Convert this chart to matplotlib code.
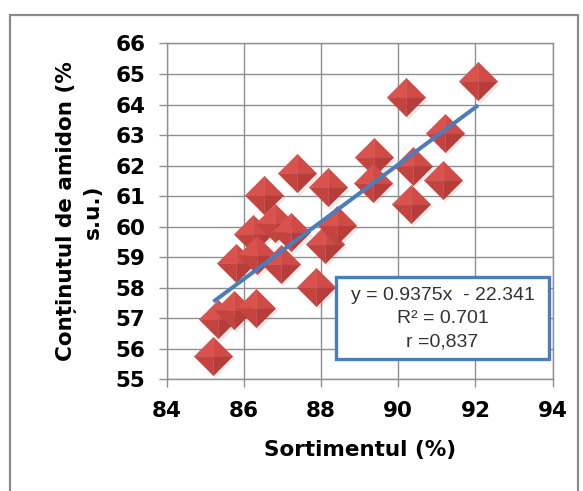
import matplotlib
matplotlib.use("Agg")
import matplotlib.pyplot as plt
import matplotlib.transforms as mtransforms
from matplotlib.patches import Rectangle

# values
sortiment = [85.21, 85.33, 85.74, 86.30, 85.80, 86.24, 86.35, 86.51, 86.80, 86.97,
             87.21, 87.37, 87.87, 88.19, 88.11, 88.40, 89.37, 89.34, 90.20, 90.39,
             90.34, 91.20, 91.15, 92.07]
amidon = [55.77, 56.97, 57.26, 57.32, 58.82, 59.77, 59.06, 61.02, 60.12, 58.79,
          59.82, 61.75, 58.03, 61.29, 59.44, 60.04, 62.27, 61.44, 64.24, 62.00,
          60.75, 63.07, 61.53, 64.77]
slope, intercept = 0.9375, -22.341
eq_lines = ["y = 0.9375x  - 22.341", "R² = 0.701", "r =0,837"]
x_ticks = [84, 86, 88, 90, 92, 94]
y_ticks = list(range(55, 67))

font = "DejaVu Sans"
grid_col = "#8f8f8f"

fig = plt.figure(figsize=(5.83, 4.91), dpi=100)
ax = fig.add_axes([0.286, 0.2275, 0.662, 0.684])

# outer chart frame
fig.add_artist(Rectangle((10 / 583, -0.05), 568 / 583, 1 - 15 / 491 + 0.05,
                         transform=fig.transFigure, fill=False,
                         edgecolor="#8a8a8a", linewidth=1.6))

# diamond facets: upper-left, upper-right, lower-right, lower-left
diamond = [(-1, 0), (0, 1), (1, 0), (0, -1)]
facets = [
    ([(0, 0), (-1, 0), (0, 1)], "#d9524e"),
    ([(0, 0), (0, 1), (1, 0)], "#d04a46"),
    ([(0, 0), (1, 0), (0, -1)], "#b63d3a"),
    ([(0, 0), (0, -1), (-1, 0)], "#c4433f"),
]
msize = 760
shadow = mtransforms.offset_copy(ax.transData, fig=fig, x=2, y=-2.5, units="dots")
for xv, yv in zip(sortiment, amidon):
    ax.scatter([xv], [yv], s=msize * 1.05, marker=diamond, color="#555555",
               alpha=0.12, linewidths=0, transform=shadow, zorder=3)
    for verts, col in facets:
        ax.scatter([xv], [yv], s=msize, marker=verts, color=col,
                   linewidths=0.4, edgecolors=col, zorder=3)

x0, x1 = min(sortiment), max(sortiment)
ax.plot([x0, x1], [slope * x0 + intercept, slope * x1 + intercept],
        color="#4a7ebb", linewidth=2.9, solid_capstyle="butt", zorder=4)

ax.set_xlim(84, 94)
ax.set_ylim(55, 66)
ax.set_xticks(x_ticks)
ax.set_yticks(y_ticks)
ax.grid(True, color=grid_col, linewidth=1.0)
ax.set_axisbelow(True)
for sp in ax.spines.values():
    sp.set_color(grid_col)
    sp.set_linewidth(1.0)
ax.tick_params(direction="out", length=5.5, width=1.0, color=grid_col, pad=10)
for lab in ax.get_xticklabels() + ax.get_yticklabels():
    lab.set_fontfamily(font)
    lab.set_fontweight("bold")
    lab.set_fontsize(15.5)

ax.set_xlabel("Sortimentul (%)", fontfamily=font, fontweight="bold",
              fontsize=15.5, labelpad=14)
ax.set_ylabel("Conținutul de amidon (%\ns.u.)", fontfamily=font,
              fontweight="bold", fontsize=15.5, linespacing=1.4)
ax.yaxis.set_label_coords(-0.165, 0.5)

# equation box
ax.add_patch(Rectangle((0.4386, 0.0604), 0.5514, 0.2441, transform=ax.transAxes,
                       facecolor="white", edgecolor="#4a7ebb", linewidth=2.4,
                       zorder=5))
for line, yy in zip(eq_lines, [0.2488, 0.1815, 0.1119]):
    ax.text(0.7145, yy, line, transform=ax.transAxes, ha="center", va="center",
            fontfamily="Liberation Sans", fontsize=14, color="#333333", zorder=6)

fig.savefig("out.png", dpi=100)
